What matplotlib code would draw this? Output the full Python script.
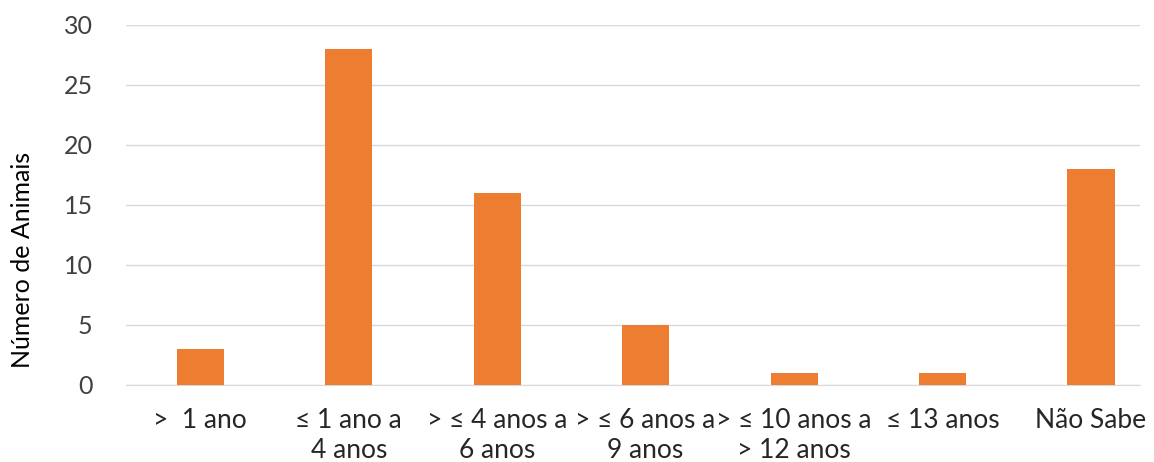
import numpy as np
import matplotlib
matplotlib.use("Agg")
import matplotlib.pyplot as plt

categories = [">  1 ano", "≤ 1 ano a\n4 anos", "> ≤ 4 anos a\n6 anos", "> ≤ 6 anos a\n9 anos",
              "> ≤ 10 anos a\n> 12 anos", "≤ 13 anos", "Não Sabe"]
values = [3, 28, 16, 5, 1, 1, 18]

plt.rcParams['font.family'] = ['Lato', 'DejaVu Sans']

fig = plt.figure(figsize=(11.54, 4.62), dpi=100)
ax = fig.add_axes([126 / 1154, 0.167, (1140 - 126) / 1154, 0.779])

x = np.arange(len(categories))
ax.bar(x, values, width=0.317, color='#ED7D31', zorder=3)

ax.set_xlim(-0.5, 6.33)
ax.set_ylim(0, 30)
ax.set_yticks(np.arange(0, 31, 5))
ax.yaxis.grid(True, color='#D9D9D9', linewidth=1)
ax.set_axisbelow(True)

ax.set_xticks(x)
ax.set_xticklabels(categories, fontsize=19, color='#262626', linespacing=1.22)
ax.tick_params(axis='y', labelsize=18, colors='#404040', length=0, pad=24)
ax.tick_params(axis='x', length=0, pad=17)
ax.set_ylabel('Número de Animais', fontsize=18, color='black')
ax.yaxis.set_label_coords(-0.0908, 0.347)

for s in ['top', 'right', 'left']:
    ax.spines[s].set_visible(False)
ax.spines['bottom'].set_color('#D9D9D9')

fig.savefig('out.png', dpi=100)
